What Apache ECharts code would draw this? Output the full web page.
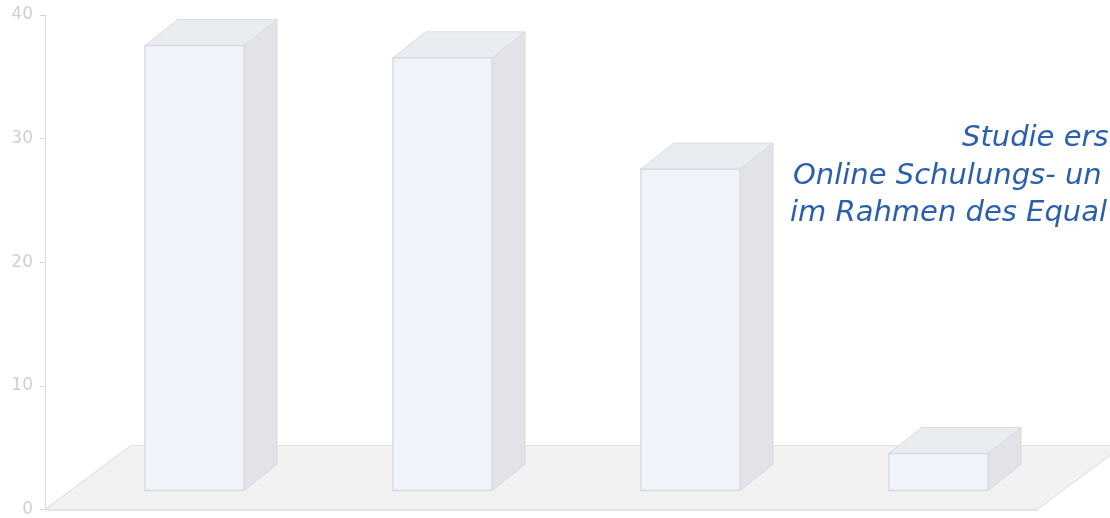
<!DOCTYPE html>
<html>
<head>
<meta charset="utf-8">
<script src="https://cdn.jsdelivr.net/npm/echarts@6/dist/echarts.min.js"></script>
<style>
  html, body { margin: 0; padding: 0; background: #ffffff; }
  #chart { width: 1110px; height: 518px; }
</style>
</head>
<body>
<div id="chart"></div>
<script>
// Chart data
const categories = ['1', '2', '3', '4'];
const values = [36, 35, 26, 3];
const yMin = 0;
const yMax = 40;
const yStep = 10;
const noteLines = ['Studie ers', 'Online Schulungs- un', 'im Rahmen des Equal'];

// 3D look: where the bars stand on the floor and how deep they are
const FLOOR_DX = 86, FLOOR_DY = -64;
const PLACE_DX = 25.5, PLACE_DY = -19;
const DEPTH_DX = 33, DEPTH_DY = -26;

const chart = echarts.init(document.getElementById('chart'), null, { renderer: 'canvas' });

function renderFloor(params, api) {
  const cs = params.coordSys;
  const bx = cs.x, by = cs.y + cs.height, w = cs.width;
  return {
    type: 'polygon',
    shape: {
      points: [
        [bx, by],
        [bx + w, by],
        [bx + w + FLOOR_DX, by + FLOOR_DY],
        [bx + FLOOR_DX, by + FLOOR_DY]
      ]
    },
    style: { fill: '#f2f2f3', stroke: '#e2e2e4', lineWidth: 1.2 }
  };
}

function renderBar(params, api) {
  const i = api.value(0);
  const v = api.value(1);
  const base = api.coord([i, 0]);
  const top = api.coord([i, v]);
  const band = api.size([1, 0])[0];
  const w = band * 0.4;
  const x0 = base[0] - w / 2 + PLACE_DX;
  const x1 = x0 + w;
  const yb = base[1] + PLACE_DY;
  const yt = top[1] + PLACE_DY;
  const edge = '#d9dce2';
  return {
    type: 'group',
    children: [
      {
        type: 'polygon',
        shape: { points: [[x1, yt], [x1 + DEPTH_DX, yt + DEPTH_DY], [x1 + DEPTH_DX, yb + DEPTH_DY], [x1, yb]] },
        style: { fill: '#e1e3e8', stroke: edge, lineWidth: 1 }
      },
      {
        type: 'polygon',
        shape: { points: [[x0, yt], [x0 + DEPTH_DX, yt + DEPTH_DY], [x1 + DEPTH_DX, yt + DEPTH_DY], [x1, yt]] },
        style: { fill: '#e9ecf1', stroke: edge, lineWidth: 1 }
      },
      {
        type: 'rect',
        shape: { x: x0, y: yt, width: w, height: yb - yt },
        style: { fill: '#f0f3f9', stroke: edge, lineWidth: 1.5 }
      }
    ]
  };
}

const noteStyle = {
  fill: '#2a5fae',
  fontSize: 29,
  fontStyle: 'italic',
  fontFamily: '"DejaVu Sans", sans-serif'
};

chart.setOption({
  animation: false,
  backgroundColor: '#ffffff',
  grid: { left: 45, right: 73, top: 15, bottom: 8.5, containLabel: false },
  xAxis: {
    type: 'category',
    data: categories,
    boundaryGap: true,
    axisLine: { show: true, lineStyle: { color: '#e0e0e2', width: 1.5 } },
    axisTick: { show: false },
    axisLabel: { show: false },
    splitLine: { show: false }
  },
  yAxis: {
    type: 'value',
    min: yMin,
    max: yMax,
    interval: yStep,
    axisLine: { show: true, lineStyle: { color: '#dcdcdc', width: 1 } },
    axisTick: { show: true, length: 5, lineStyle: { color: '#d8d8d8' } },
    axisLabel: {
      color: '#d0d0d0',
      fontSize: 17,
      fontFamily: '"DejaVu Sans", Verdana, sans-serif',
      margin: 12
    },
    splitLine: { show: false }
  },
  graphic: [
    { type: 'text', left: 962, top: 124, style: Object.assign({ text: noteLines[0] }, noteStyle) },
    { type: 'text', left: 793, top: 162, style: Object.assign({ text: noteLines[1] }, noteStyle) },
    { type: 'text', left: 790, top: 199, style: Object.assign({ text: noteLines[2] }, noteStyle) }
  ],
  series: [
    {
      type: 'custom',
      z: 1,
      silent: true,
      renderItem: renderFloor,
      data: [[0, 0]],
      encode: { x: 0, y: 1 }
    },
    {
      type: 'custom',
      z: 2,
      silent: true,
      renderItem: renderBar,
      data: values.map((v, i) => [i, v]),
      encode: { x: 0, y: 1 }
    }
  ]
});
</script>
</body>
</html>
